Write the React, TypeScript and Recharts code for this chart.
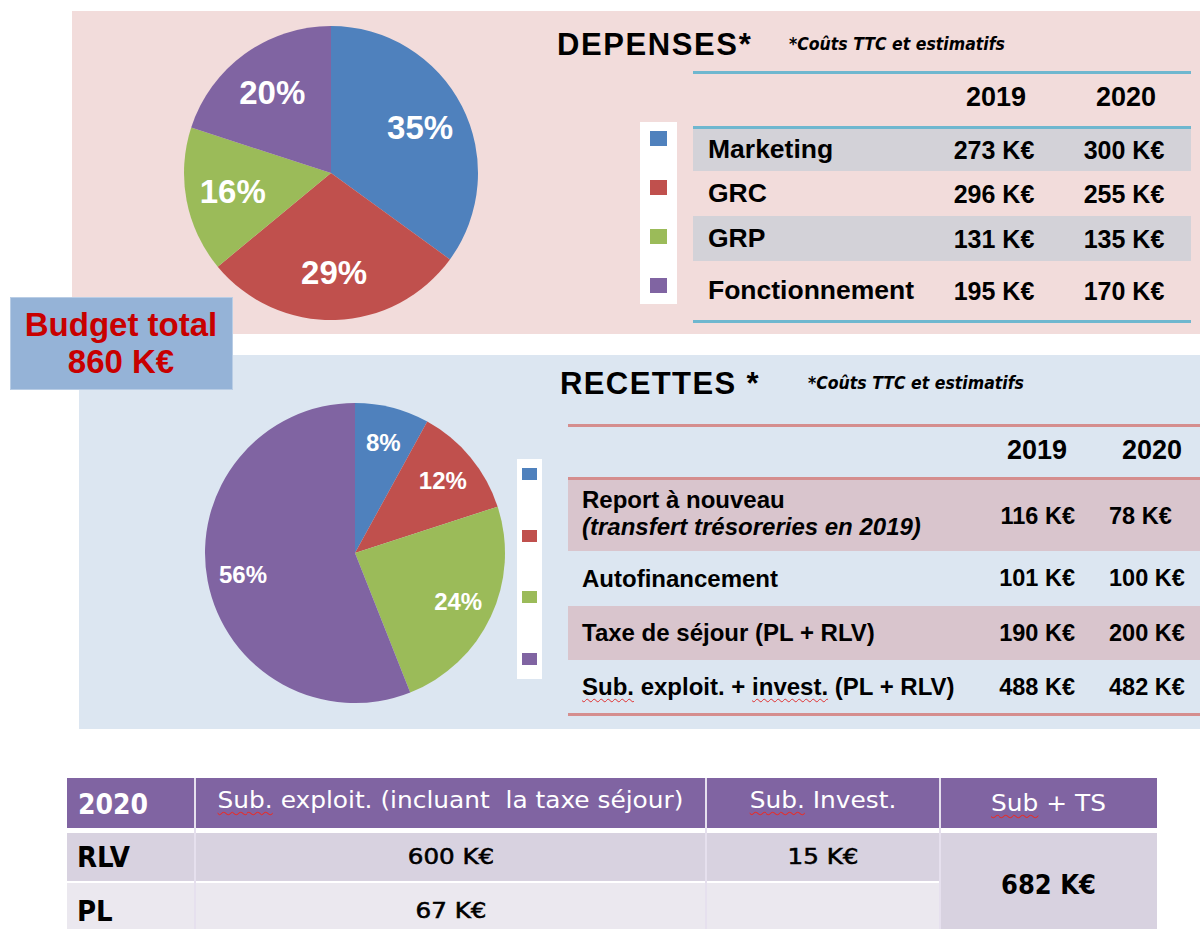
import React from "react"
import { PieChart, Pie, Cell } from "recharts"

const COLORS = ["#4f81bd", "#c0504d", "#9bbb59", "#8064a2"]
const YEARS = ["2019", "2020"]

const DEP_LABELS = ["Marketing", "GRC", "GRP", "Fonctionnement"]
const DEP_SHARE = [35, 29, 16, 20]
const DEP_2019 = [273, 296, 131, 195]
const DEP_2020 = [300, 255, 135, 170]

const REC_LABELS = [
  "Report à nouveau",
  "Autofinancement",
  "Taxe de séjour (PL + RLV)",
  "Sub. exploit. + invest. (PL + RLV)",
]
const REC_NOTE = "(transfert trésoreries en 2019)"
const REC_SHARE = [8, 12, 24, 56]
const REC_2019 = [116, 101, 190, 488]
const REC_2020 = [78, 100, 200, 482]

const SUB_YEAR = "2020"
const SUB_COLS = ["Sub. exploit. (incluant  la taxe séjour)", "Sub. Invest.", "Sub + TS"]
const SUB_ROWS = ["RLV", "PL"]
const SUB_EXPLOIT = [600, 67]
const SUB_INVEST: (number | null)[] = [15, null]
const SUB_TOTAL = 682
const BUDGET_TOTAL = 860

const ARIAL = "'Liberation Sans', Arial, sans-serif"
const CALIBRI = "'DejaVu Sans Condensed', 'DejaVu Sans', sans-serif"
const ke = (v: number) => `${v} K€`

// words flagged by the spell checker in the original slide
const spell = (text: string) =>
  text.split(/(\s+)/).map((w, i) =>
    /^(Sub\.?|invest\.)$/.test(w) ? (
      <span key={i} style={{ textDecoration: "underline wavy #e03030", textDecorationThickness: 1, textUnderlineOffset: 3 }}>
        {w}
      </span>
    ) : (
      <React.Fragment key={i}>{w}</React.Fragment>
    )
  )

type Box = { left: number; top: number; width?: number; height?: number; bg?: string; style?: React.CSSProperties; children?: React.ReactNode }
const Abs = ({ left, top, width, height, bg, style, children }: Box) => (
  <div style={{ position: "absolute", left, top, width, height, background: bg, ...style }}>{children}</div>
)

// text vertically centred on y
const Txt = ({ x, y, w, align = "left", size, font = ARIAL, weight = 700, color = "#000", italic = false, sx = 1, ls = 0, stroke = 0, children }: any) => {
  const left = align === "center" ? x - w / 2 : align === "right" ? x - w : x
  return (
    <div
      style={{
        position: "absolute",
        left,
        top: y - size,
        width: w,
        height: size * 2,
        lineHeight: `${size * 2}px`,
        fontSize: size,
        fontFamily: font,
        fontWeight: weight,
        fontStyle: italic ? "italic" : "normal",
        letterSpacing: ls,
        color,
        textAlign: align,
        whiteSpace: "pre",
        transform: sx !== 1 ? `scaleX(${sx})` : undefined,
        transformOrigin: align,
        WebkitTextStroke: stroke ? `${stroke}px ${color}` : undefined,
      }}
    >
      {children}
    </div>
  )
}

function SharePie({ share, size, radius, labelFactor, fontSize }: { share: number[]; size: number; radius: number; labelFactor: number; fontSize: number }) {
  const data = share.map((v, i) => ({ name: String(i), value: v }))
  const renderLabel = (p: any) => {
    const r = p.outerRadius * labelFactor
    const a = (-p.midAngle * Math.PI) / 180
    return (
      <text
        x={p.cx + r * Math.cos(a)}
        y={p.cy + r * Math.sin(a)}
        fill="#fff"
        fontFamily={ARIAL}
        fontWeight={700}
        fontSize={fontSize}
        textAnchor="middle"
        dominantBaseline="central"
      >
        {`${p.value}%`}
      </text>
    )
  }
  return (
    <PieChart width={size} height={size} margin={{ top: 0, right: 0, bottom: 0, left: 0 }}>
      <Pie
        data={data}
        dataKey="value"
        cx={size / 2}
        cy={size / 2}
        outerRadius={radius}
        startAngle={90}
        endAngle={-270}
        stroke="none"
        labelLine={false}
        label={renderLabel}
        isAnimationActive={false}
      >
        {data.map((d, i) => (
          <Cell key={d.name} fill={COLORS[i]} />
        ))}
      </Pie>
    </PieChart>
  )
}

const Legend = ({ left, top, width, height, sq, sqH, first, step }: any) => (
  <Abs left={left} top={top} width={width} height={height} bg="#fff">
    {COLORS.map((c, i) => (
      <div key={c} style={{ position: "absolute", left: (width - sq) / 2, top: first + i * step, width: sq, height: sqH, background: c }} />
    ))}
  </Abs>
)

const DEP_ROWS = [
  { top: 128, h: 43, shade: true },
  { top: 171, h: 45, shade: false },
  { top: 216, h: 45, shade: true },
  { top: 261, h: 59, shade: false },
]
const REC_ROWS = [
  { top: 478, h: 73, shade: true },
  { top: 551, h: 55, shade: false },
  { top: 606, h: 54, shade: true },
  { top: 660, h: 54, shade: false },
]
const SUB_X = [67, 195, 706, 940, 1157]

export default function App() {
  return (
    <div style={{ position: "absolute", left: 0, top: 0, width: 1200, height: 929, background: "#fff", overflow: "hidden" }}>
      {/* DEPENSES panel */}
      <Abs left={72} top={11} width={1128} height={323} bg="#f2dcdb" />
      <Abs left={181} top={23}>
        <SharePie share={DEP_SHARE} size={300} radius={147} labelFactor={0.68} fontSize={33} />
      </Abs>
      <Txt x={557} y={45} w={220} size={31} ls={1.6}>DEPENSES*</Txt>
      <Txt x={789} y={44} w={260} size={17.5} italic font={CALIBRI}>*Coûts TTC et estimatifs</Txt>
      <Legend left={640} top={122} width={37} height={182} sq={17} sqH={15} first={9} step={49} />
      {DEP_ROWS.map((r, i) => (
        <React.Fragment key={DEP_LABELS[i]}>
          {r.shade && <Abs left={693} top={r.top} width={498} height={r.h} bg="#d3d2d8" />}
          <Txt x={708} y={r.top + r.h / 2} w={240} size={26.5}>{DEP_LABELS[i]}</Txt>
          <Txt x={994} y={r.top + r.h / 2} w={120} size={25} align="center">{ke(DEP_2019[i])}</Txt>
          <Txt x={1124} y={r.top + r.h / 2} w={120} size={25} align="center">{ke(DEP_2020[i])}</Txt>
        </React.Fragment>
      ))}
      {[71, 126, 320].map((y) => (
        <Abs key={y} left={693} top={y} width={498} height={3} bg="#6fb7cf" />
      ))}
      {YEARS.map((yr, i) => (
        <Txt key={yr} x={[996, 1126][i]} y={97} w={100} size={27} align="center">{yr}</Txt>
      ))}

      {/* RECETTES panel */}
      <Abs left={79} top={355} width={1121} height={374} bg="#dce6f1" />
      <Abs left={200} top={398}>
        <SharePie share={REC_SHARE} size={310} radius={150} labelFactor={0.76} fontSize={24} />
      </Abs>
      <Txt x={560} y={384} w={240} size={31} ls={1.4}>RECETTES *</Txt>
      <Txt x={808} y={383} w={260} size={17.5} italic font={CALIBRI}>*Coûts TTC et estimatifs</Txt>
      <Legend left={517} top={459} width={25} height={220} sq={15} sqH={12} first={9} step={61.7} />
      {REC_ROWS.map((r, i) => (
        <React.Fragment key={REC_LABELS[i]}>
          {r.shade && <Abs left={568} top={r.top} width={632} height={r.h} bg="#d9c5cd" />}
          {i === 0 ? (
            <>
              <Txt x={582} y={500} w={380} size={24}>{REC_LABELS[i]}</Txt>
              <Txt x={582} y={527} w={380} size={24} italic>{REC_NOTE}</Txt>
            </>
          ) : (
            <Txt x={582} y={r.top + r.h / 2} w={420} size={24}>{spell(REC_LABELS[i])}</Txt>
          )}
          <Txt x={1075} y={r.top + r.h / 2 + (i === 0 ? 2 : 0)} w={120} size={23.5} align="right">{ke(REC_2019[i])}</Txt>
          <Txt x={1109} y={r.top + r.h / 2 + (i === 0 ? 2 : 0)} w={120} size={23.5}>{ke(REC_2020[i])}</Txt>
        </React.Fragment>
      ))}
      {[424, 477, 713].map((y) => (
        <Abs key={y} left={568} top={y} width={632} height={3} bg="#d58e8e" />
      ))}
      {YEARS.map((yr, i) => (
        <Txt key={yr} x={[1037, 1152][i]} y={450} w={100} size={27} align="center">{yr}</Txt>
      ))}

      {/* Budget total */}
      <Abs left={10} top={297} width={223} height={93} bg="#95b3d7" style={{ border: "1px solid #b9cde5", boxSizing: "border-box" }} />
      <Txt x={121} y={325} w={223} size={33} align="center" color="#c80000">Budget total</Txt>
      <Txt x={121} y={362} w={223} size={33} align="center" color="#c80000">{ke(BUDGET_TOTAL)}</Txt>

      {/* Subventions 2020 */}
      <Abs left={67} top={778} width={1090} height={50} bg="#8064a2" />
      <Abs left={67} top={833} width={873} height={48} bg="#d8d2e0" />
      <Abs left={67} top={883} width={873} height={46} bg="#ebe8ef" />
      <Abs left={940} top={833} width={217} height={96} bg="#d8d2e0" />
      {SUB_X.slice(1, 4).map((x) => (
        <Abs key={x} left={x - 1} top={778} width={2} height={151} bg="#e6e0ee" />
      ))}
      <Txt x={78} y={805} w={110} size={28} color="#fff" font={CALIBRI}>{SUB_YEAR}</Txt>
      {SUB_COLS.map((c, i) => (
        <Txt
          key={c}
          x={(SUB_X[i + 1] + SUB_X[i + 2]) / 2}
          y={i === 2 ? 803 : 800}
          w={SUB_X[i + 2] - SUB_X[i + 1]}
          size={23}
          weight={400}
          color="#fff"
          align="center"
          font={CALIBRI}
          sx={1.2}
        >
          {spell(c)}
        </Txt>
      ))}
      {SUB_ROWS.map((r, i) => {
        const y = [857, 911][i]
        return (
          <React.Fragment key={r}>
            <Txt x={77} y={y} w={110} size={29} font={CALIBRI}>{r}</Txt>
            <Txt x={(SUB_X[1] + SUB_X[2]) / 2} y={y} w={300} size={21} weight={400} align="center" font={CALIBRI} sx={1.3} stroke={0.5}>
              {ke(SUB_EXPLOIT[i])}
            </Txt>
            {SUB_INVEST[i] != null && (
              <Txt x={(SUB_X[2] + SUB_X[3]) / 2} y={y} w={200} size={21} weight={400} align="center" font={CALIBRI} sx={1.3} stroke={0.5}>
                {ke(SUB_INVEST[i] as number)}
              </Txt>
            )}
          </React.Fragment>
        )
      })}
      <Txt x={(SUB_X[3] + SUB_X[4]) / 2} y={885} w={217} size={27} align="center" font={CALIBRI}>{ke(SUB_TOTAL)}</Txt>
    </div>
  )
}
